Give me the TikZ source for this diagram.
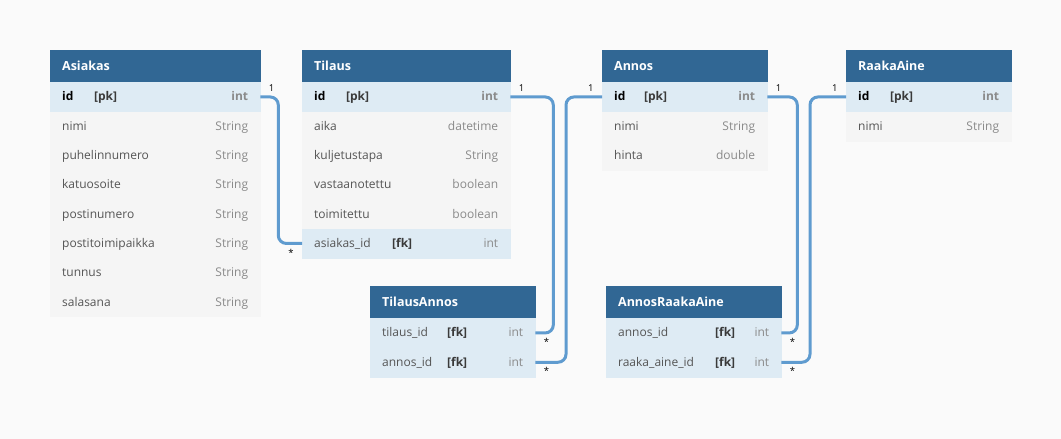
\documentclass[tikz,border=0pt]{standalone}
\usepackage{fontspec}
\setmainfont{Open Sans}
\usepackage{tikz}
\usetikzlibrary{positioning}

\definecolor{pagebg}{HTML}{FAFAFA}
\definecolor{headbg}{HTML}{316794}
\definecolor{rowbg}{HTML}{F5F5F5}
\definecolor{keybg}{HTML}{DEEBF4}
\definecolor{linkc}{HTML}{5F9BCF}
\definecolor{nametxt}{HTML}{555555}
\definecolor{typetxt}{HTML}{8A8A8A}
\definecolor{keytxt}{HTML}{3A3A3A}

% one column row: name, key tag, type
\newcommand{\fld}[4]{\makebox[#1][l]{#2}{\bfseries\color{keytxt}#3}\hfill{\color{typetxt}#4}}
\newcommand{\pkfld}[2]{\makebox[#1][l]{\bfseries\color{black}id}{\bfseries\color{keytxt}[pk]}\hfill{\bfseries\color{typetxt}#2}}

\begin{document}
\begin{tikzpicture}[
x=1pt, y=-1pt,
node distance=0pt,
head/.style={fill=headbg, draw=headbg, line width=0.3pt, text=white, anchor=north west, minimum height=32pt, inner xsep=12pt, inner ysep=0pt, text width=#1, text height=10pt, text depth=1pt, font=\fontsize{12.5}{14}\selectfont\bfseries},
row/.style={fill=rowbg, draw=rowbg, line width=0.3pt, text=nametxt, minimum height=29pt, inner xsep=12pt, inner ysep=0pt, text width=#1, text height=10pt, text depth=2pt, font=\fontsize{12}{14}\selectfont},
key/.style={row=#1, fill=keybg, draw=keybg},
link/.style={linkc, line width=3pt, rounded corners=8pt},
one/.style={text=black, inner sep=1pt, font=\fontsize{9.5}{10}\selectfont},
many/.style={text=black, inner sep=1pt, font=\fontsize{9.5}{10}\selectfont}
]
\fill[pagebg] (0,0) rectangle (1061,439);
\useasboundingbox (0,0) rectangle (1061,439);

% Asiakas
\node[head=186pt] (asiakas) at (50,50) {Asiakas};
\node[key=186pt, below=of asiakas] (asiakas-id) {\pkfld{32pt}{int}};
\node[row=186pt, below=of asiakas-id] (asiakas-1) {nimi\hfill{\color{typetxt}String}};
\node[row=186pt, below=of asiakas-1] (asiakas-2) {puhelinnumero\hfill{\color{typetxt}String}};
\node[row=186pt, below=of asiakas-2] (asiakas-3) {katuosoite\hfill{\color{typetxt}String}};
\node[row=186pt, below=of asiakas-3] (asiakas-4) {postinumero\hfill{\color{typetxt}String}};
\node[row=186pt, below=of asiakas-4] (asiakas-5) {postitoimipaikka\hfill{\color{typetxt}String}};
\node[row=186pt, below=of asiakas-5] (asiakas-6) {tunnus\hfill{\color{typetxt}String}};
\node[row=186pt, below=of asiakas-6] (asiakas-7) {salasana\hfill{\color{typetxt}String}};

% Tilaus
\node[head=184pt] (tilaus) at (302,50) {Tilaus};
\node[key=184pt, below=of tilaus] (tilaus-id) {\pkfld{32pt}{int}};
\node[row=184pt, below=of tilaus-id] (tilaus-1) {aika\hfill{\color{typetxt}datetime}};
\node[row=184pt, below=of tilaus-1] (tilaus-2) {kuljetustapa\hfill{\color{typetxt}String}};
\node[row=184pt, below=of tilaus-2] (tilaus-3) {vastaanotettu\hfill{\color{typetxt}boolean}};
\node[row=184pt, below=of tilaus-3] (tilaus-4) {toimitettu\hfill{\color{typetxt}boolean}};
\node[key=184pt, below=of tilaus-4] (tilaus-fk) {\fld{78pt}{asiakas\_id}{[fk]}{int}};

% Annos
\node[head=141pt] (annos) at (602,50) {Annos};
\node[key=141pt, below=of annos] (annos-id) {\pkfld{30pt}{int}};
\node[row=141pt, below=of annos-id] (annos-1) {nimi\hfill{\color{typetxt}String}};
\node[row=141pt, below=of annos-1] (annos-2) {hinta\hfill{\color{typetxt}double}};

% RaakaAine
\node[head=141pt] (raaka) at (846,50) {RaakaAine};
\node[key=141pt, below=of raaka] (raaka-id) {\pkfld{32pt}{int}};
\node[row=141pt, below=of raaka-id] (raaka-1) {nimi\hfill{\color{typetxt}String}};

% TilausAnnos
\node[head=141pt] (ta) at (370,286) {TilausAnnos};
\node[key=141pt, below=of ta] (ta-tilaus) {\fld{65pt}{tilaus\_id}{[fk]}{int}};
\node[key=141pt, below=of ta-tilaus] (ta-annos) {\fld{65pt}{annos\_id}{[fk]}{int}};

% AnnosRaakaAine
\node[head=151pt] (ar) at (606,286) {AnnosRaakaAine};
\node[key=151pt, below=of ar] (ar-annos) {\fld{97pt}{annos\_id}{[fk]}{int}};
\node[key=151pt, below=of ar-annos] (ar-raaka) {\fld{97pt}{raaka\_aine\_id}{[fk]}{int}};

% relations
\draw[link] (asiakas-id.east) node[one, anchor=south west, xshift=6pt, yshift=3pt] {1}
  -- ++(18,0) |- (tilaus-fk.west) node[many, anchor=north east, xshift=-6pt, yshift=-3pt] {*};
\draw[link] (tilaus-id.east) node[one, anchor=south west, xshift=6pt, yshift=3pt] {1}
  -- ++(43,0) |- (ta-tilaus.east) node[many, anchor=north west, xshift=6pt, yshift=-3pt] {*};
\draw[link] (annos-id.west) node[one, anchor=south east, xshift=-6pt, yshift=3pt] {1}
  -- ++(-36,0) |- (ta-annos.east) node[many, anchor=north west, xshift=6pt, yshift=-3pt] {*};
\draw[link] (annos-id.east) node[one, anchor=south west, xshift=6pt, yshift=3pt] {1}
  -- ++(30,0) |- (ar-annos.east) node[many, anchor=north west, xshift=6pt, yshift=-3pt] {*};
\draw[link] (raaka-id.west) node[one, anchor=south east, xshift=-6pt, yshift=3pt] {1}
  -- ++(-36,0) |- (ar-raaka.east) node[many, anchor=north west, xshift=6pt, yshift=-3pt] {*};
\end{tikzpicture}
\end{document}
